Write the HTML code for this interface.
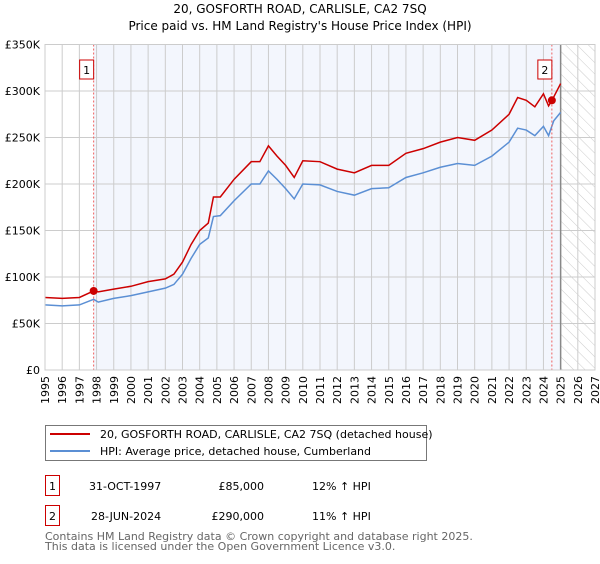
<!DOCTYPE html>
<html><head><meta charset="utf-8"><style>
body{margin:0;background:#fff;font-family:"DejaVu Sans","Liberation Sans",sans-serif;}
svg text{font-family:"DejaVu Sans","Liberation Sans",sans-serif;}
</style></head><body>
<svg id="c" width="600" height="560" viewBox="0 0 600 560">
<defs><pattern id="hatch" width="8" height="8" patternUnits="userSpaceOnUse" patternTransform="rotate(-45)"><line x1="0" y1="0" x2="0" y2="8" stroke="#ccc" stroke-width="1"/></pattern></defs>
<text x="300" y="13" text-anchor="middle" font-size="12">20, GOSFORTH ROAD, CARLISLE, CA2 7SQ</text>
<text x="300" y="30" text-anchor="middle" font-size="12">Price paid vs. HM Land Registry's House Price Index (HPI)</text>
<g id="plot"></g>
<g>
<rect x="45.5" y="425.5" width="381" height="35" fill="#fff" stroke="#777"/>
<line x1="50" y1="434" x2="90" y2="434" stroke="#cc0000" stroke-width="2"/>
<text x="100" y="438" font-size="11">20, GOSFORTH ROAD, CARLISLE, CA2 7SQ (detached house)</text>
<line x1="50" y1="451" x2="90" y2="451" stroke="#5b8fd4" stroke-width="2"/>
<text x="100" y="455" font-size="11">HPI: Average price, detached house, Cumberland</text>
</g>
<g font-size="11">
<rect x="45.5" y="475.5" width="14" height="20" fill="#fff" stroke="#cc0000"/>
<text x="52.5" y="490" text-anchor="middle">1</text>
<text x="89" y="490">31-OCT-1997</text><text x="264" y="490" text-anchor="end">£85,000</text><text x="312" y="490">12% ↑ HPI</text>
<rect x="45.5" y="505.5" width="14" height="20" fill="#fff" stroke="#cc0000"/>
<text x="52.5" y="520" text-anchor="middle">2</text>
<text x="91" y="520">28-JUN-2024</text><text x="264" y="520" text-anchor="end">£290,000</text><text x="312" y="520">11% ↑ HPI</text>
</g>
<text x="45" y="540" font-size="11" fill="#666">Contains HM Land Registry data © Crown copyright and database right 2025.</text>
<text x="45" y="550" font-size="11" fill="#666">This data is licensed under the Open Government Licence v3.0.</text>
</svg>
<script>
const yearTicks=[1995,1996,1997,1998,1999,2000,2001,2002,2003,2004,2005,2006,2007,2008,2009,2010,2011,2012,2013,2014,2015,2016,2017,2018,2019,2020,2021,2022,2023,2024,2025,2026,2027];
const priceTicks=[0,50000,100000,150000,200000,250000,300000,350000];
const priceLabels=["£0","£50K","£100K","£150K","£200K","£250K","£300K","£350K"];
const hpiYears=[1995,1996,1997,1997.83,1998.1,1999,2000,2001,2002,2002.5,2003,2003.5,2004,2004.5,2004.8,2005.2,2006,2007,2007.5,2008,2008.5,2009,2009.5,2010,2011,2012,2013,2014,2015,2016,2017,2018,2019,2020,2021,2022,2022.5,2023,2023.5,2024,2024.3,2024.6,2025];
const hpiValues=[70000,69000,70000,76000,73000,77000,80000,84000,88000,92000,103000,120000,135000,142000,165000,166000,182000,200000,200000,214000,205000,195000,184000,200000,199000,192000,188000,195000,196000,207000,212000,218000,222000,220000,230000,245000,260000,258000,252000,262000,252000,268000,277000];
const priceYears=[1995,1996,1997,1997.83,1998.1,1999,2000,2001,2002,2002.5,2003,2003.5,2004,2004.5,2004.8,2005.2,2006,2007,2007.5,2008,2008.5,2009,2009.5,2010,2011,2012,2013,2014,2015,2016,2017,2018,2019,2020,2021,2022,2022.5,2023,2023.5,2024,2024.3,2024.5,2025];
const priceValues=[78000,77000,78000,85000,84000,87000,90000,95000,98000,103000,116000,135000,150000,158000,186000,186000,205000,224000,224000,241000,230000,220000,207000,225000,224000,216000,212000,220000,220000,233000,238000,245000,250000,247000,258000,275000,293000,290000,283000,297000,284000,290000,308000];
const saleYears=[1997.83,2024.49];
const saleValues=[85000,290000];
const saleLabels=["1","2"];
const X0=45,X1=595,Y0=370,Y1=44.5;
const xs=y=>X0+(y-1995)/(2027-1995)*(X1-X0);
const ys=v=>Y0-v/350000*(Y0-Y1);
const NS="http://www.w3.org/2000/svg";
const g=document.getElementById('plot');
function el(t,a,p){const e=document.createElementNS(NS,t);for(const k in a)e.setAttribute(k,a[k]);(p||g).appendChild(e);return e;}
let r=el('rect',{x:xs(saleYears[0]),y:Y1,width:xs(2025)-xs(saleYears[0]),height:Y0-Y1,fill:'#f3f6fd'});


r=el('rect',{x:xs(2025),y:Y1,width:X1-xs(2025),height:Y0-Y1,fill:'url(#hatch)'});


yearTicks.forEach(y=>{const l=el('line',{x1:xs(y),x2:xs(y),y1:Y1,y2:Y0,stroke:'#ccc'});


const t=el('text',{x:0,y:0,'font-size':11,'text-anchor':'end',transform:`translate(${xs(y)+4},${Y0+6}) rotate(-90)`});t.textContent=y;

});
priceTicks.forEach((v,i)=>{const l=el('line',{x1:X0,x2:X1,y1:ys(v),y2:ys(v),stroke:'#ccc'});


const t=el('text',{x:X0-5,y:ys(v)+4,'font-size':11,'text-anchor':'end'});t.textContent=priceLabels[i];

});
const v=el('line',{x1:xs(2025),x2:xs(2025),y1:Y1,y2:Y0,stroke:'#888','stroke-width':1.5});


const hp=el('polyline',{points:hpiYears.map((y,i)=>xs(y)+','+ys(hpiValues[i])).join(' '),fill:'none',stroke:'#5b8fd4','stroke-width':1.5});


const pp=el('polyline',{points:priceYears.map((y,i)=>xs(y)+','+ys(priceValues[i])).join(' '),fill:'none',stroke:'#cc0000','stroke-width':1.5});


saleYears.forEach((y,i)=>{const d=el('line',{x1:xs(y),x2:xs(y),y1:Y1,y2:Y0,stroke:'#f06060','stroke-dasharray':'2,2'});


const c=el('circle',{cx:xs(y),cy:ys(saleValues[i]),r:4,fill:'#cc0000'});


const b=el('rect',{x:xs(y)-14,y:60,width:14,height:19,fill:'#fff',stroke:'#cc0000'});


const t=el('text',{x:xs(y)-7,y:74,'font-size':11,'text-anchor':'middle'});t.textContent=saleLabels[i];

});
const ax=el('rect',{x:X0,y:Y1,width:X1-X0,height:Y0-Y1,fill:'none',stroke:'#ccc'});


</script>
</body></html>
